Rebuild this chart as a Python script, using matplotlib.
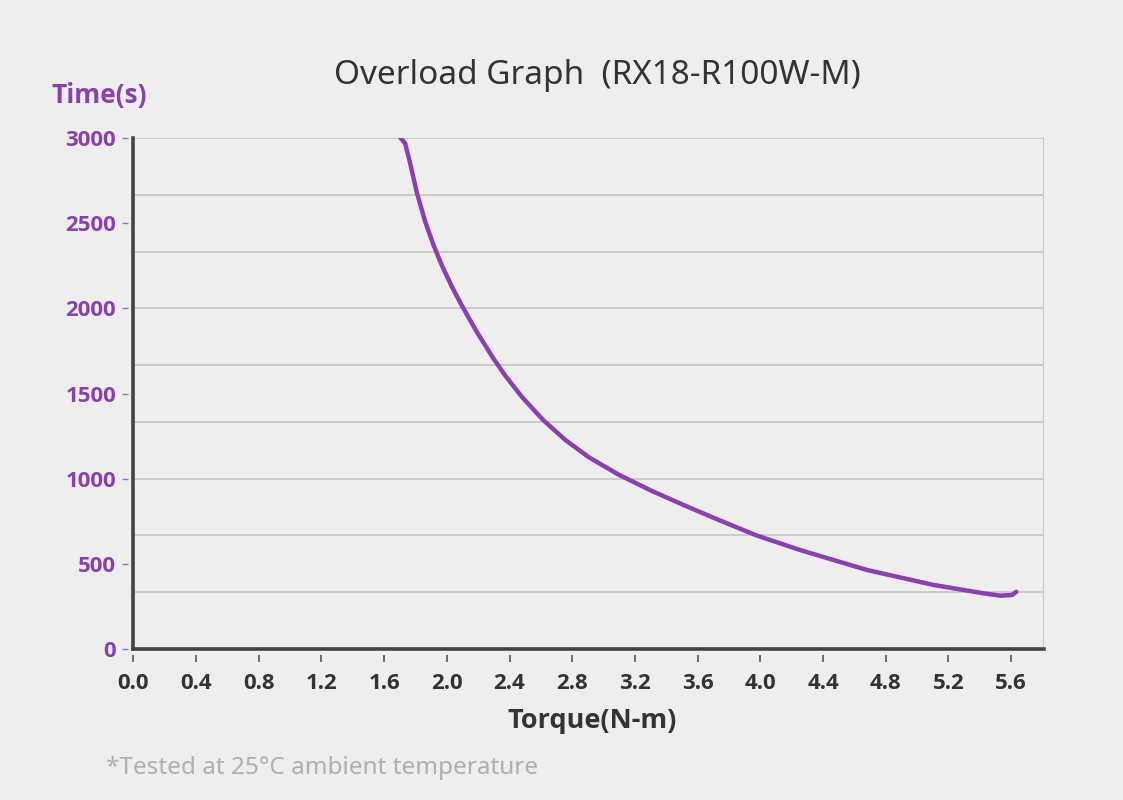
import matplotlib
matplotlib.use("Agg")
import matplotlib.pyplot as plt
import numpy as np

plt.rcParams['font.family'] = ['Noto Sans', 'DejaVu Sans']
bold_family = ['Open Sans', 'Lato', 'DejaVu Sans']

# curve (torque N-m, time s)
torque = [1.705, 1.734, 1.766, 1.809, 1.862, 1.915, 1.968, 2.032, 2.096, 2.191,
          2.297, 2.372, 2.479, 2.616, 2.755, 2.904, 3.095, 3.308, 3.521, 3.744,
          3.975, 4.254, 4.680, 5.105, 5.424, 5.531, 5.606, 5.633]
time_s = [3000, 2969, 2852, 2679, 2509, 2372, 2253, 2128, 2016, 1862,
          1706, 1606, 1480, 1343, 1228, 1127, 1024, 928, 841, 754,
          667, 581, 464, 376, 327, 313, 317, 336]

x_ticks = [0.0, 0.4, 0.8, 1.2, 1.6, 2.0, 2.4, 2.8, 3.2, 3.6, 4.0, 4.4, 4.8, 5.2, 5.6]
y_ticks = [0, 500, 1000, 1500, 2000, 2500, 3000]

purple = '#8a40ae'
dark = '#333333'
bg = '#eeeeee'

fig = plt.figure(figsize=(11.23, 8), dpi=100, facecolor=bg)
ax = fig.add_axes([0.1187, 0.18875, 0.811, 0.63875], facecolor=bg)

ax.set_xlim(0, 5.81)
ax.set_ylim(0, 3000)

# grid lines split the height in 9 bands
for g in np.linspace(0, 3000, 10)[1:]:
    ax.axhline(g, color='#c8c8c8', lw=1.3, zorder=1)
ax.axvline(5.81, color='#c8c8c8', lw=1.5, zorder=1)

ax.plot(torque, time_s, color=purple, lw=3.2, solid_capstyle='round',
        solid_joinstyle='round', zorder=3)

# axis lines
ax.axvline(0, color='#444444', lw=2.6, zorder=4, clip_on=False)
ax.axhline(0, color='#444444', lw=2.6, zorder=4, clip_on=False)

for s in ax.spines.values():
    s.set_color('none')
ax.spines['left'].set_position(('outward', 4))
ax.spines['bottom'].set_position(('outward', 4))

ax.set_xticks(x_ticks)
ax.set_xticklabels([f'{v:.1f}' for v in x_ticks])
ax.set_yticks(y_ticks)
ax.set_yticklabels([str(v) for v in y_ticks])

ax.tick_params(axis='x', length=5, width=1.2, color='#555555', pad=8,
               labelsize=16, labelcolor=dark)
ax.tick_params(axis='y', length=4.5, width=1, color='#9a70b8', pad=4,
               labelsize=16, labelcolor=purple)
for lab in ax.get_xticklabels() + ax.get_yticklabels():
    lab.set_fontweight('bold')
    lab.set_family(bold_family)

fig.text(597 / 1123, 1 - 75 / 800, 'Overload Graph  (RX18-R100W-M)',
         ha='center', va='center', fontsize=24, color=dark)
fig.text(52 / 1123, 1 - 95 / 800, 'Time(s)', ha='left', va='center',
         fontsize=19, fontweight='bold', color=purple, family=bold_family)
fig.text(592 / 1123, 1 - 721 / 800, 'Torque(N-m)', ha='center', va='center',
         fontsize=19.5, fontweight='bold', color=dark, family=bold_family)
fig.text(106 / 1123, 1 - 768 / 800, '*Tested at 25°C ambient temperature',
         ha='left', va='center', fontsize=17.5, color='#b0b0b0')

fig.savefig('out.png', dpi=100, facecolor=bg)
